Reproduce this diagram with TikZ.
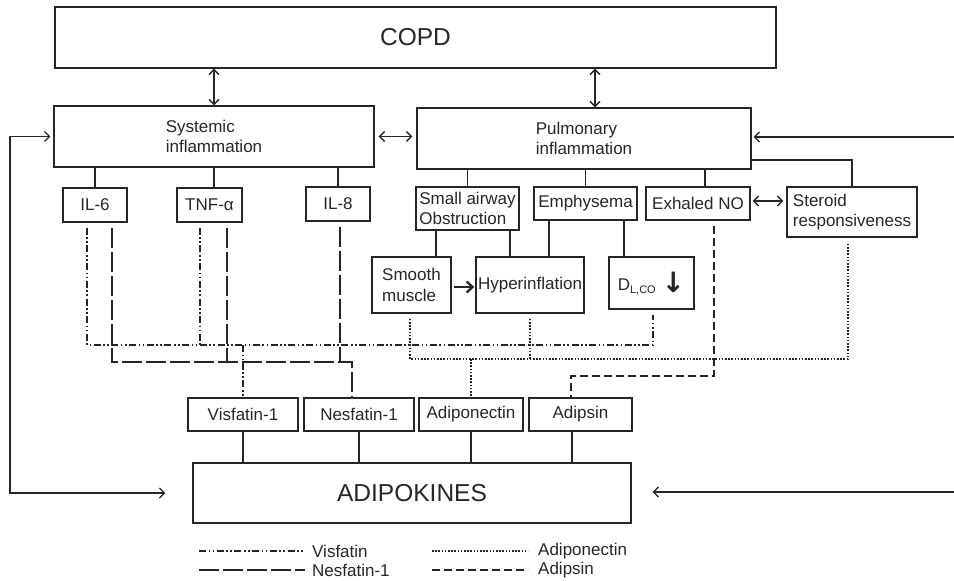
\documentclass[tikz,border=0pt]{standalone}
\usepackage{fontspec}
\setmainfont{Liberation Sans}
\newfontfamily\symfont{DejaVu Sans}
\usetikzlibrary{arrows.meta}
\definecolor{ink}{HTML}{262626}

\begin{document}
\begin{tikzpicture}[x=1pt, y=-1pt, >={Straight Barb[length=5pt,width=10pt]},
    box/.style  = {draw=ink, line width=1.4pt, text=ink, inner sep=0, align=left, font=\fontsize{17}{20.5}\selectfont},
    big/.style  = {font=\fontsize{24.5}{28}\selectfont},
    wire/.style = {draw=ink, line width=1.4pt},
    key/.style  = {anchor=west, inner sep=0, text=ink, font=\fontsize{17}{20}\selectfont},
    vis/.style  = {draw=ink, line width=2.6pt, dash pattern=on 7pt off 2.5pt on 1.6pt off 2.5pt on 1.6pt off 2.5pt},
    nes/.style  = {draw=ink, line width=2.6pt, dash pattern=on 20pt off 4pt},
    adp/.style  = {draw=ink, line width=2.4pt, dash pattern=on 1.6pt off 1.6pt},
    ads/.style  = {draw=ink, line width=2.6pt, dash pattern=on 8pt off 4pt}]
    \useasboundingbox (0,0) rectangle (954,581);

    \node[box, big, minimum width=721, minimum height=61] (copd) at (415.5,37.5) {COPD};
    \node[box, minimum width=320, minimum height=61] (sys) at (214,136.5) {Systemic\\inflammation};
    \node[box, minimum width=334, minimum height=61] (pul) at (584,138.5) {Pulmonary\\inflammation};

    \node[box, minimum width=64, minimum height=34] (il6) at (95,205)    {IL-6};
    \node[box, minimum width=65, minimum height=34] (tnf) at (209.5,205) {TNF-α};
    \node[box, minimum width=64, minimum height=34] (il8) at (338,204)   {IL-8};

    \node[box, minimum width=103, minimum height=43] (small) at (467.5,208.5) {Small airway\\Obstruction};
    \node[box, minimum width=103, minimum height=33] (emph)  at (585.5,203.5) {Emphysema};
    \node[box, minimum width=104, minimum height=33] (exno)  at (698,203.5)   {Exhaled NO};
    \node[box, minimum width=130, minimum height=50] (ster)  at (852,212)     {Steroid\\responsiveness};

    \node[box, minimum width=79,  minimum height=56] (smooth) at (411.5,285) {Smooth\\muscle};
    \node[box, minimum width=108, minimum height=56] (hyper)  at (530,285)   {Hyperinflation};
    \node[box, minimum width=85,  minimum height=52] (dlco)   at (651.5,283)
      {D\raisebox{-3pt}{\fontsize{11}{11}\selectfont L,CO}\hspace{6pt}\raisebox{-2pt}{\symfont\bfseries\fontsize{28}{28}\selectfont ↓}};

    \node[box, minimum width=110, minimum height=33] (visf) at (243,414.5)   {Visfatin-1};
    \node[box, minimum width=110, minimum height=33] (nesf) at (359,414.5)   {Nesfatin-1};
    \node[box, minimum width=104, minimum height=33] (adpn) at (471,414.5)   {Adiponectin};
    \node[box, minimum width=103, minimum height=33] (adps) at (580.5,414.5) {Adipsin};
    \node[box, big, minimum width=438, minimum height=60] (adk) at (412,493) {ADIPOKINES};

    \coordinate (lft)  at (10,137);
    \coordinate (rgt1) at (954,137);
    \coordinate (rgt2) at (954,492);
    \coordinate (vbus) at (653,345);
    \coordinate (nbus) at (352,362);
    \coordinate (abus) at (848,359);
    \coordinate (dbus) at (571,376);

    % COPD and the two inflammations
    \draw[wire, <->] (sys.north |- copd.south) -- (sys.north);
    \draw[wire, <->] ([xshift=11]pul.north |- copd.south) -- ([xshift=11]pul.north);
    \draw[wire, <->, shorten <=4pt, shorten >=4pt] (sys.east) -- (sys.east -| pul.west);

    \draw[wire] (il6.north) -- (il6.north |- sys.south);
    \draw[wire] (sys.south) -- (sys.south |- tnf.north);
    \draw[wire] (il8.north) -- (il8.north |- sys.south);
    \draw[wire] (small.north) -- (small.north |- pul.south);
    \draw[wire] (emph.north) -- (emph.north |- pul.south);
    \draw[wire] ([xshift=7]exno.north) -- ([xshift=7]exno.north |- pul.south);
    \draw[wire] ([yshift=-21.5]pul.east) -| (ster.north);
    \draw[wire, <->, shorten <=2pt, shorten >=3pt] ([yshift=2.5]exno.east) -- ([yshift=2.5]exno.east -| ster.west);

    \draw[wire] ([xshift=24.5]smooth.north) -- ([xshift=24.5]smooth.north |- small.south);
    \draw[wire] ([xshift=-20]hyper.north) -- ([xshift=-20]hyper.north |- small.south);
    \draw[wire] ([xshift=19]hyper.north) -- ([xshift=19]hyper.north |- emph.south);
    \draw[wire] ([xshift=-27.5]dlco.north) -- ([xshift=-27.5]dlco.north |- emph.south);
    \draw[wire, line width=2.3pt, -{Straight Barb[length=6pt,width=11pt]}, shorten <=2pt, shorten >=1pt]
      ([yshift=-2]smooth.east) -- ([yshift=-2]smooth.east -| hyper.west);

    \draw[wire] (visf.south) -- (visf.south |- adk.north);
    \draw[wire] (nesf.south) -- (nesf.south |- adk.north);
    \draw[wire] (adpn.south) -- (adpn.south |- adk.north);
    \draw[wire] ([xshift=-8.5]adps.south) -- ([xshift=-8.5]adps.south |- adk.north);

    % feedback
    \draw[wire, line width=1.2pt, <->, shorten <=3pt, shorten >=27pt] (sys.west) -- (sys.west -| lft) |- (adk.west);
    \draw[wire, line width=1.2pt, ->, shorten >=2pt] (rgt1) -- (rgt1 -| pul.east);
    \draw[wire, line width=1.2pt, ->, shorten >=21pt] (rgt2) -- (rgt2 -| adk.east);

    % adipokine paths
    \draw[vis] ([xshift=-8,yshift=-5]il6.south) |- (vbus) -- ([xshift=1.5,yshift=-5]dlco.south);
    \draw[vis] ([xshift=-9.5,yshift=-5]tnf.south) -- ([xshift=-9.5]tnf.south |- vbus);
    \draw[vis] (visf.north |- vbus) -- (visf.north);
    \draw[nes] ([xshift=17,yshift=-5]il6.south) |- (nbus) -- (nbus |- nesf.north);
    \draw[nes] ([xshift=17.5,yshift=-5]tnf.south) -- ([xshift=17.5]tnf.south |- nbus);
    \draw[nes] ([xshift=2,yshift=-5]il8.south) -- ([xshift=2]il8.south |- nbus);
    \draw[adp] ([xshift=-1.5,yshift=-5]smooth.south) |- (abus) -- ([xshift=-4,yshift=-5]ster.south);
    \draw[adp] ([yshift=-5]hyper.south) -- (hyper.south |- abus);
    \draw[adp] (adpn.north |- abus) -- (adpn.north);
    \draw[ads] ([xshift=16,yshift=-5]exno.south) |- (dbus) -- (dbus |- adps.north);

    % legend
    \node[key] (lgvis) at (312,551) {Visfatin};
    \node[key] (lgnes) at (312,570) {Nesfatin-1};
    \node[key] (lgadp) at (538,551) {Adiponectin};
    \node[key] (lgads) at (538,570) {Adipsin};
    \draw[vis] ([xshift=-113]lgvis.west) -- ([xshift=-7]lgvis.west);
    \draw[nes] ([xshift=-113]lgnes.west) -- ([xshift=-7]lgnes.west);
    \draw[adp] ([xshift=-106]lgadp.west) -- ([xshift=-10]lgadp.west);
    \draw[ads] ([xshift=-106]lgads.west) -- ([xshift=-10]lgads.west);
  \end{tikzpicture}
\end{document}
